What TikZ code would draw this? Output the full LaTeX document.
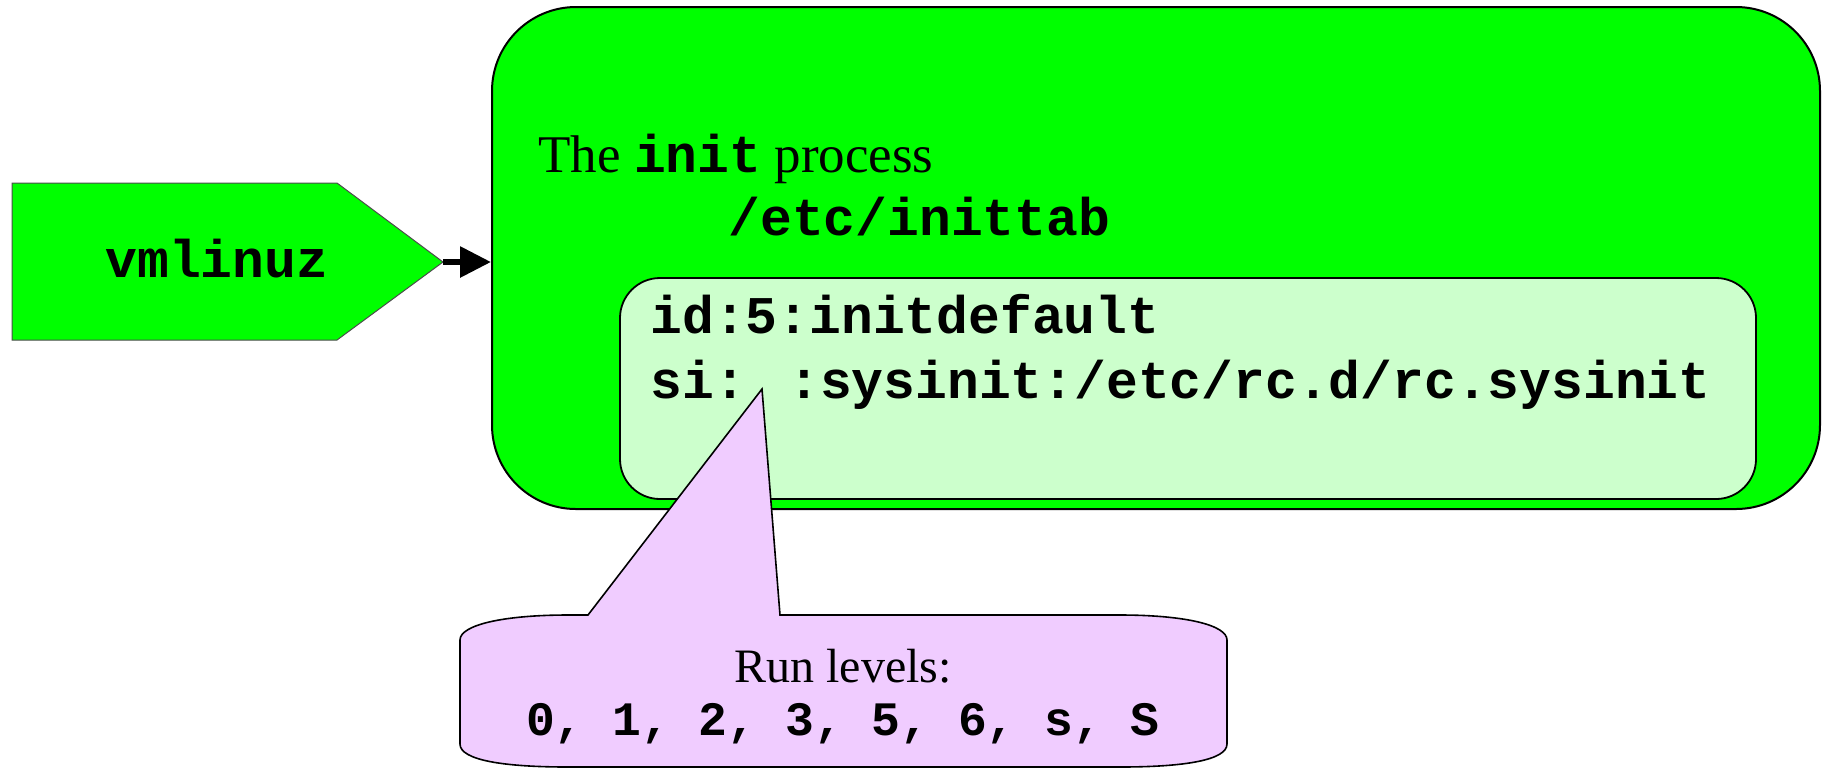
\documentclass[tikz,border=0pt]{standalone}
\usepackage{fontspec}
\setmainfont{Liberation Serif}
\newfontfamily\monof{Liberation Mono}
\usetikzlibrary{arrows.meta}
\definecolor{brightgreen}{RGB}{0,255,0}
\definecolor{palegreen}{RGB}{204,255,204}
\definecolor{lavender}{RGB}{240,204,255}
\tikzset{
  codetxt/.style={font=\monof\bfseries\fontsize{26.5pt}{30pt}\selectfont, inner sep=0pt, anchor=base west},
  serif/.style={font=\fontsize{26.5pt}{30pt}\selectfont, inner sep=0pt, anchor=base west},
  outerbox/.style={draw=black, line width=1pt, fill=brightgreen, rounded corners=42pt, minimum width=664pt, minimum height=251pt, inner sep=0pt},
  innerbox/.style={draw=black, line width=0.9pt, fill=palegreen, rounded corners=20pt, minimum width=568pt, minimum height=110.5pt, inner sep=0pt},
  pentagon/.style={draw=black!70, line width=0.5pt, fill=brightgreen},
  calloutshape/.style={draw=black, line width=0.8pt, fill=lavender},
  connector/.style={line width=3pt, -{Triangle[length=15.5pt,width=15pt]}}
}
\begin{document}
\begin{tikzpicture}[x=0.5pt,y=-0.5pt]
\useasboundingbox (0,0) rectangle (1822,768);
% pentagon vmlinuz
\coordinate (p1) at (12,183);
\coordinate (p2) at (337,183);
\coordinate (vtip) at (443,262);
\coordinate (p4) at (337,340);
\coordinate (p5) at (12,340);
\draw[pentagon] (p1) -- (p2) -- (vtip) -- (p4) -- (p5) -- cycle;
\node[codetxt] (vml) at (105,277) {vmlinuz};
% outer box
\node[outerbox] (init) at (1156,258) {};
\draw[connector] (vtip) -- (vtip -| init.west);
% inner box
\node[innerbox] (tab) at (1188,388.5) {};
% callout
\coordinate (cbl) at (588,615);
\coordinate (ctip) at (762,389);
\coordinate (cbr) at (780,615);
\draw[calloutshape] (cbl) -- (ctip) -- (cbr) -- (1120,615)
  .. controls (1185,615) and (1227,625) .. (1227,640) -- (1227,744)
  .. controls (1227,760) and (1185,767) .. (1120,767) -- (568,767)
  .. controls (503,767) and (460,760) .. (460,744) -- (460,640)
  .. controls (460,625) and (503,615) .. (568,615) -- cycle;
% texts
\node[serif] (title) at (538,172) {The \monof\bfseries init\rmfamily\mdseries{} process};
\node[codetxt] (etc) at (728,235) {/etc/inittab};
\node[codetxt] (l1) at (650,333) {id:5:initdefault};
\node[codetxt] (l2) at (650,398) {si: :sysinit:/etc/rc.d/rc.sysinit};
\node[font=\fontsize{24pt}{28pt}\selectfont, inner sep=0pt, anchor=base] (rl) at (843,682) {Run levels:};
\node[font=\monof\bfseries\fontsize{24pt}{28pt}\selectfont, inner sep=0pt, anchor=base] (rv) at (843,735) {0, 1, 2, 3, 5, 6, s, S};
\end{tikzpicture}
\end{document}
